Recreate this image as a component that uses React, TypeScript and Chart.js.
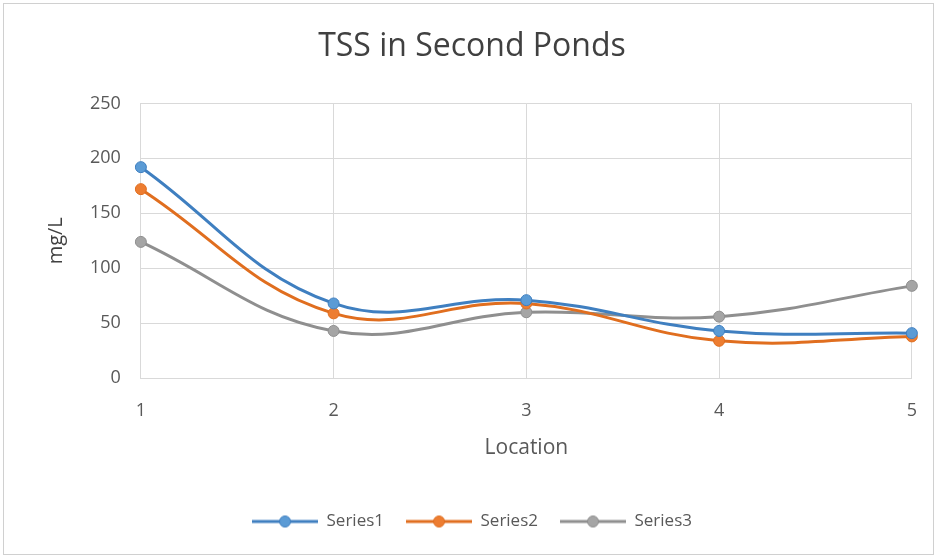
import React, { useEffect, useRef } from "react";
import { Chart, registerables } from "chart.js";
Chart.register(...registerables);

const locations = ["1", "2", "3", "4", "5"];
const series1 = [192, 68, 71, 43, 41];
const series2 = [172, 59, 68, 34, 38];
const series3 = [124, 43, 60, 56, 84];
const seriesNames = ["Series1", "Series2", "Series3"];
const lineColors = ["#3f7fc0", "#e06e1f", "#8f8f8f"];
const pointColors = ["#5b9bd5", "#ed7d31", "#a5a5a5"];
const titleText = "TSS in Second Ponds";
const yTitle = "mg/L";
const xTitle = "Location";

const FONT = "'Open Sans', 'Noto Sans', sans-serif";

function legendMarker(line: string, fill: string): HTMLCanvasElement {
  const c = document.createElement("canvas");
  const w = 66, h = 14;
  c.width = w;
  c.height = h;
  const ctx = c.getContext("2d")!;
  ctx.strokeStyle = line;
  ctx.lineWidth = 3;
  ctx.beginPath();
  ctx.moveTo(0, h / 2);
  ctx.lineTo(w, h / 2);
  ctx.stroke();
  ctx.fillStyle = fill;
  ctx.strokeStyle = line;
  ctx.lineWidth = 1;
  ctx.beginPath();
  ctx.arc(w / 2, h / 2, 5.5, 0, Math.PI * 2);
  ctx.fill();
  ctx.stroke();
  return c;
}

export default function App() {
  const ref = useRef<HTMLCanvasElement>(null);
  useEffect(() => {
    if (!ref.current) return;
    const all = [series1, series2, series3];
    const markers = all.map((_, i) => legendMarker(lineColors[i], pointColors[i]));
    const chart = new Chart(ref.current, {
      type: "line",
      data: {
        labels: locations,
        datasets: all.map((d, i) => ({
          label: seriesNames[i],
          data: d,
          borderColor: lineColors[i],
          backgroundColor: pointColors[i],
          pointBackgroundColor: pointColors[i],
          pointBorderColor: lineColors[i],
          pointBorderWidth: 1,
          pointRadius: 5.5,
          borderWidth: 3,
          tension: 0.4,
          fill: false,
        })),
      },
      options: {
        animation: false,
        responsive: false,
        maintainAspectRatio: false,
        layout: { padding: { left: 32, right: 27, top: 0, bottom: 20 } },
        plugins: {
          title: {
            display: true,
            text: titleText,
            color: "#404040",
            font: { family: FONT, size: 32, weight: "normal" },
            padding: { top: 28, bottom: 37 },
          },
          legend: {
            position: "bottom",
            labels: {
              usePointStyle: true,
              pointStyleWidth: 66,
              color: "#595959",
              font: { family: FONT, size: 17 },
              padding: 22,
              generateLabels: (ch: any) =>
                ch.data.datasets.map((ds: any, i: number) => ({
                  text: ds.label,
                  pointStyle: markers[i],
                  fillStyle: pointColors[i],
                  strokeStyle: lineColors[i],
                  lineWidth: 0,
                  datasetIndex: i,
                  hidden: false,
                  fontColor: "#595959",
                })),
            },
          },
          tooltip: { enabled: false },
        },
        scales: {
          x: {
            offset: false,
            grid: { color: "#d9d9d9", lineWidth: 1, drawTicks: false },
            border: { color: "#d9d9d9" },
            ticks: { color: "#595959", font: { family: FONT, size: 18 }, padding: 22 },
            title: {
              display: true,
              text: xTitle,
              color: "#595959",
              font: { family: FONT, size: 21 },
              padding: { top: -8, bottom: 30 },
            },
          },
          y: {
            min: 0,
            max: 250,
            grid: { color: "#d9d9d9", lineWidth: 1, drawTicks: false },
            border: { color: "#d9d9d9" },
            ticks: { stepSize: 50, color: "#595959", font: { family: FONT, size: 18 }, padding: 20 },
            title: {
              display: true,
              text: yTitle,
              color: "#404040",
              font: { family: FONT, size: 20 },
              padding: { top: 12, bottom: 2 },
            },
          },
        },
      },
    });
    return () => chart.destroy();
  }, []);
  return (
    <div
      style={{
        position: "fixed",
        left: 0,
        top: 0,
        width: 939,
        height: 560,
        background: "#fff",
      }}
    >
      <div
        style={{
          position: "absolute",
          left: 3,
          top: 3,
          width: 931,
          height: 552,
          border: "1px solid #d0d0d0",
          boxSizing: "border-box",
        }}
      />
      <canvas ref={ref} width={939} height={560} style={{ position: "absolute", left: 0, top: 0 }} />
    </div>
  );
}
